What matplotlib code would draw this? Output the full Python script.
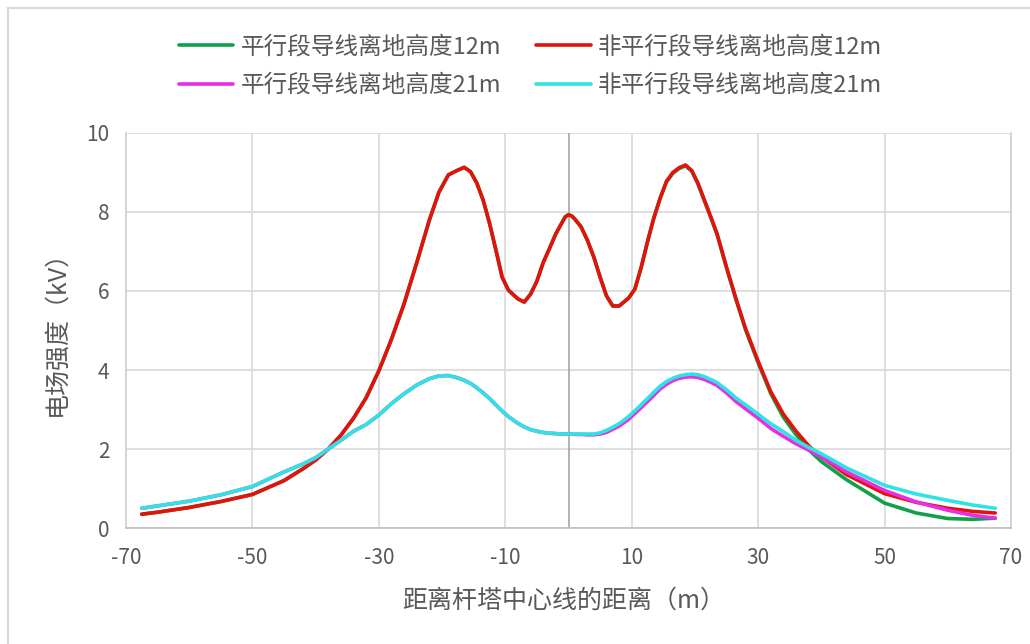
import matplotlib
matplotlib.use("Agg")
import matplotlib.pyplot as plt
from matplotlib.lines import Line2D

plt.rcParams['font.family'] = ['Noto Sans CJK SC', 'DejaVu Sans']
plt.rcParams['axes.unicode_minus'] = False

# distance from tower centre line (m)
x_pos = [-67.5, -65, -60, -55, -50, -45, -42, -40, -38, -36, -34, -32, -30, -28, -26, -24,
         -22, -20.5, -19, -17.5, -16.5, -15.5, -14.5, -13.5, -12.5, -11.5, -10.5, -9.5, -8,
         -7, -6, -5, -4, -3, -2, -1, -0.5, 0, 0.5, 1, 2, 3, 4, 5, 6, 7, 8, 9.5, 10.5, 11.5,
         12.5, 13.5, 14.5, 15.5, 16.5, 17.5, 18.5, 19.5, 20.5, 21.5, 22.5, 23.5, 25, 26.5,
         28, 30, 32, 34, 36, 38, 40, 44, 50, 55, 60, 64, 67.5]

# electric field (kV), conductor height 12 m, non-parallel section
red_12 = [0.35, 0.40, 0.52, 0.67, 0.85, 1.20, 1.50, 1.72, 2.00, 2.35, 2.78, 3.30, 3.98, 4.78,
          5.68, 6.72, 7.80, 8.50, 8.94, 9.06, 9.13, 9.02, 8.73, 8.30, 7.72, 7.05, 6.35, 6.02,
          5.80, 5.72, 5.92, 6.25, 6.72, 7.08, 7.45, 7.74, 7.88, 7.93, 7.90, 7.82, 7.62, 7.28,
          6.86, 6.35, 5.88, 5.62, 5.62, 5.82, 6.05, 6.60, 7.25, 7.85, 8.35, 8.78, 9.00, 9.12,
          9.19, 9.05, 8.72, 8.30, 7.88, 7.45, 6.60, 5.80, 5.05, 4.22, 3.45, 2.88, 2.45, 2.08,
          1.80, 1.35, 0.87, 0.65, 0.50, 0.42, 0.38]

# parallel section, 12 m (differs on the right tail)
green_12 = [0.35, 0.40, 0.52, 0.67, 0.85, 1.20, 1.50, 1.72, 2.00, 2.35, 2.78, 3.30, 3.98, 4.78,
            5.68, 6.72, 7.80, 8.50, 8.94, 9.06, 9.13, 9.02, 8.73, 8.30, 7.72, 7.05, 6.35, 6.02,
            5.80, 5.72, 5.92, 6.25, 6.72, 7.08, 7.45, 7.74, 7.88, 7.93, 7.90, 7.82, 7.62, 7.28,
            6.86, 6.35, 5.88, 5.62, 5.62, 5.82, 6.05, 6.60, 7.25, 7.85, 8.35, 8.76, 8.98, 9.10,
            9.17, 9.03, 8.70, 8.28, 7.86, 7.43, 6.58, 5.78, 5.02, 4.18, 3.40, 2.80, 2.36, 1.98,
            1.68, 1.22, 0.63, 0.38, 0.24, 0.22, 0.25]

# 21 m, parallel section
magenta_21 = [0.50, 0.56, 0.68, 0.84, 1.05, 1.42, 1.62, 1.78, 2.00, 2.22, 2.45, 2.62, 2.86, 3.15,
              3.40, 3.62, 3.78, 3.85, 3.86, 3.80, 3.74, 3.66, 3.55, 3.42, 3.28, 3.12, 2.96, 2.82,
              2.65, 2.56, 2.49, 2.45, 2.42, 2.40, 2.39, 2.38, 2.38, 2.38, 2.38, 2.37, 2.37, 2.36,
              2.36, 2.38, 2.42, 2.50, 2.58, 2.75, 2.90, 3.05, 3.20, 3.36, 3.52, 3.64, 3.73, 3.79,
              3.82, 3.83, 3.81, 3.76, 3.69, 3.61, 3.42, 3.20, 3.02, 2.78, 2.52, 2.32, 2.13, 1.97,
              1.80, 1.42, 0.95, 0.66, 0.45, 0.32, 0.25]

# 21 m, non-parallel section
cyan_21 = [0.50, 0.56, 0.68, 0.84, 1.05, 1.42, 1.62, 1.78, 2.00, 2.22, 2.45, 2.62, 2.86, 3.15,
           3.40, 3.62, 3.78, 3.85, 3.86, 3.80, 3.74, 3.66, 3.55, 3.42, 3.28, 3.12, 2.96, 2.82,
           2.65, 2.56, 2.49, 2.45, 2.42, 2.40, 2.39, 2.38, 2.38, 2.38, 2.38, 2.38, 2.38, 2.38,
           2.38, 2.41, 2.47, 2.55, 2.64, 2.82, 2.97, 3.12, 3.28, 3.44, 3.59, 3.71, 3.79, 3.85,
           3.88, 3.90, 3.88, 3.83, 3.76, 3.68, 3.50, 3.29, 3.12, 2.88, 2.64, 2.44, 2.22, 2.04,
           1.88, 1.52, 1.08, 0.86, 0.70, 0.58, 0.50]

labels = ['平行段导线离地高度12m', '非平行段导线离地高度12m',
          '平行段导线离地高度21m', '非平行段导线离地高度21m']
colors = ['#0FA04A', '#E3120B', '#E52EE5', '#30E3E3']
x_ticks = [-70, -50, -30, -10, 10, 30, 50, 70]
y_ticks = [0, 2, 4, 6, 8, 10]

fig = plt.figure(figsize=(10.30, 6.44), dpi=100)
ax = fig.add_axes([0.1223, 0.1801, 0.8593, 0.6134])

series = [green_12, red_12, magenta_21, cyan_21]
lines = []
for ys, c, lab in zip(series, colors, labels):
    ln, = ax.plot(x_pos, ys, color=c, linewidth=2.6, label=lab,
                  solid_capstyle='round', solid_joinstyle='round')
    lines.append(ln)

ax.set_xlim(-70, 70)
ax.set_ylim(0, 10)
ax.set_xticks(x_ticks)
ax.set_yticks(y_ticks)
ax.grid(True, color='#D9D9D9', linewidth=1.2)
ax.axvline(0, color='#A6A6A6', linewidth=1.2, zorder=1)
ax.set_axisbelow(True)
for s in ['left', 'right', 'bottom']:
    ax.spines[s].set_color('#D0D0D0')
    ax.spines[s].set_linewidth(1.2)
ax.spines['bottom'].set_color('#BFBFBF')
ax.spines['top'].set_visible(False)
ax.tick_params(length=0, labelsize=15, colors='#595959')
ax.tick_params(axis='x', pad=14)
ax.tick_params(axis='y', pad=12)

ax.set_xlabel('距离杆塔中心线的距离（m）', fontsize=18, color='#595959')
ax.set_ylabel('电场强度（kV）', fontsize=18, color='#595959')
ax.xaxis.set_label_coords(0.495, -0.152)
ax.yaxis.set_label_coords(-0.064, 0.51)

# row-wise legend: reorder for column-major filling
order = [0, 2, 1, 3]
fig.legend([lines[i] for i in order], [labels[i] for i in order],
           loc='center', bbox_to_anchor=(0.515, 0.897), ncol=2, frameon=False,
           fontsize=17, handlelength=2.3, handletextpad=0.3, columnspacing=1.5,
           labelspacing=0.65, labelcolor='#595959')

# outer chart border
fig.add_artist(Line2D([0.008, 0.008], [0, 0.988], color='#D9D9D9', linewidth=1.5,
                      transform=fig.transFigure))
fig.add_artist(Line2D([0.008, 1], [0.988, 0.988], color='#D9D9D9', linewidth=1.5,
                      transform=fig.transFigure))

fig.savefig('out.png', dpi=100)
